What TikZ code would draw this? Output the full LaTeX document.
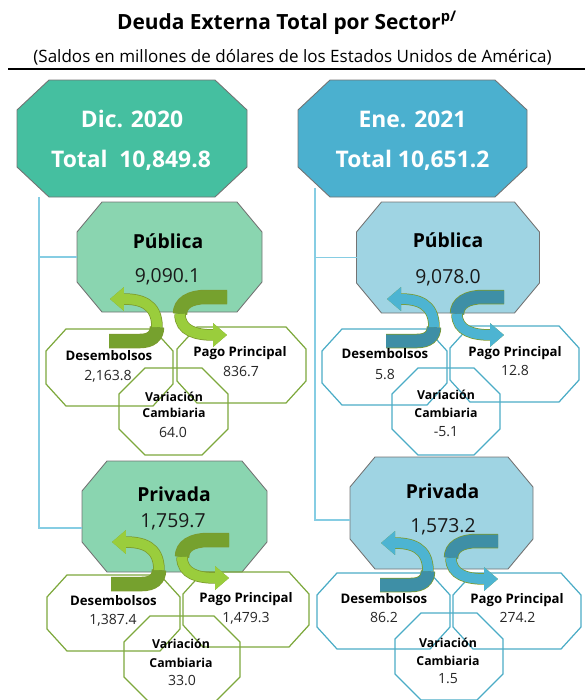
\documentclass[tikz,border=0pt]{standalone}
\usepackage{fontspec}
\setmainfont{Open Sans}
\usetikzlibrary{calc}
\usetikzlibrary{arrows.meta}

\definecolor{totG}{HTML}{45BFA0}
\definecolor{totB}{HTML}{4BB0CF}
\definecolor{secG}{HTML}{8AD5B0}
\definecolor{secB}{HTML}{9FD4E3}
\definecolor{lineG}{HTML}{7DA83C}
\definecolor{lineB}{HTML}{4BACC6}
\definecolor{linkC}{HTML}{86CDE3}
\definecolor{arrGdk}{HTML}{76A12E}
\definecolor{arrGlt}{HTML}{9ACD3C}
\definecolor{arrBdk}{HTML}{3E8FA6}
\definecolor{arrBlt}{HTML}{4DB4D2}
\definecolor{arrEdge}{HTML}{7C9A2E}

% chamfered outline of a named box: name, x cut, y cut
\newcommand{\octo}[3]{($(#1.north west)+(#2,0)$) -- ($(#1.north east)+(-#2,0)$) -- ($(#1.north east)+(0,#3)$) -- ($(#1.south east)+(0,-#3)$) -- ($(#1.south east)+(-#2,0)$) -- ($(#1.south west)+(#2,0)$) -- ($(#1.south west)+(0,-#3)$) -- ($(#1.north west)+(0,#3)$) -- cycle}

\tikzset{
  box/.style 2 args={minimum width=#1*0.02cm, minimum height=#2*0.02cm, inner sep=0pt, outer sep=0pt},
  bigbox/.style={draw=black!55, line width=0.5pt},
  subG/.style={draw=lineG, line width=0.7pt},
  subB/.style={draw=lineB, line width=0.7pt},
  link/.style={draw=linkC, line width=0.9pt},
  arrdk/.style={draw=#1, line width=0.26cm, preaction={draw=arrEdge, line width=0.29cm}},
  arrlt/.style={draw=#1, line width=0.2cm, preaction={draw=arrEdge, line width=0.23cm},
    -{Triangle[width=0.46cm,length=0.28cm]}},
  hdw/.style={anchor=base, text=white, font=\bfseries\fontsize{13}{15}\selectfont},
  sechd/.style={anchor=base, font=\bfseries\fontsize{11}{13}\selectfont},
  secval/.style={anchor=base, text=black!90, font=\fontsize{11}{13}\selectfont},
  smhd/.style={anchor=base, font=\bfseries\fontsize{7.5}{9}\selectfont},
  smvar/.style={anchor=base, font=\bfseries\fontsize{7}{8}\selectfont},
  smval/.style={anchor=base, text=black!85, font=\fontsize{8}{9}\selectfont}
}

\begin{document}
\begin{tikzpicture}[x=0.02cm,y=-0.02cm]
\useasboundingbox (0,0) rectangle (585,700);

% title
\node[anchor=base, font=\bfseries\fontsize{11.9}{14}\selectfont] (title) at (287,29) {Deuda Externa Total por Sector\textsuperscript{p/}};
\node[anchor=base, font=\fontsize{9.7}{11}\selectfont] (subtitle) at (292.5,62) {(Saldos en millones de dólares de los Estados Unidos de América)};
\draw[line width=1.2pt] (8,69) -- (585,69);

% boxes
\node[box={230}{117}] (dic) at (132,138.5) {};
\node[box={229}{117}] (ene) at (412.5,138.5) {};
\node[box={185}{110}] (pub1) at (169.5,257) {};
\node[box={183}{111}] (pub2) at (448,257.5) {};
\node[box={185}{111}] (priv1) at (174.5,516.5) {};
\node[box={183}{112}] (priv2) at (441.5,513) {};

\node[box={127}{77}] (desA) at (109.5,367.5) {};
\node[box={129}{76}] (pagA) at (241.5,365) {};
\node[box={109}{87}] (varA) at (173.5,411.5) {};
\node[box={125}{76}] (desB) at (384.5,367) {};
\node[box={129}{76}] (pagB) at (514.5,364) {};
\node[box={108}{87}] (varB) at (446,411.5) {};
\node[box={133}{76}] (desC) at (113.5,613) {};
\node[box={126}{75}] (pagC) at (246,609.5) {};
\node[box={116}{87}] (varC) at (182,659.5) {};
\node[box={133}{76}] (desD) at (383.5,611) {};
\node[box={128}{76}] (pagD) at (517,611) {};
\node[box={108}{87}] (varD) at (449,656.5) {};

\filldraw[bigbox, fill=totG] \octo{dic}{32}{30};
\filldraw[bigbox, fill=totB] \octo{ene}{32}{30};
\filldraw[bigbox, fill=secG] \octo{pub1}{25}{30};
\filldraw[bigbox, fill=secB] \octo{pub2}{25}{30};
\filldraw[bigbox, fill=secG] \octo{priv1}{25}{30};
\filldraw[bigbox, fill=secB] \octo{priv2}{25}{30};

\draw[link] ([xshift=0.44cm]dic.south west) |- (pub1.west);
\draw[link] ([xshift=0.44cm]dic.south west) |- ([yshift=-0.23cm]priv1.west);
\draw[link] ([xshift=0.34cm,yshift=0.18cm]ene.south west) |- (pub2.west);
\draw[link] ([xshift=0.34cm,yshift=0.18cm]ene.south west) |- ([yshift=-0.14cm]priv2.west);

\draw[subG] \octo{desA}{20}{22};
\draw[subG] \octo{pagA}{20}{22};
\draw[subG] \octo{varA}{26}{26};
\draw[subB] \octo{desB}{20}{22};
\draw[subB] \octo{pagB}{20}{22};
\draw[subB] \octo{varB}{26}{26};
\draw[subG] \octo{desC}{20}{22};
\draw[subG] \octo{pagC}{20}{22};
\draw[subG] \octo{varC}{26}{26};
\draw[subB] \octo{desD}{20}{22};
\draw[subB] \octo{pagD}{20}{22};
\draw[subB] \octo{varD}{26}{26};

% curved arrows
\begin{scope}
\draw[arrdk=arrGdk] (109,341) -- (140,341) .. controls (151,341) and (157,336) .. (157,327);
\draw[arrlt=arrGlt] (157,327) .. controls (157,303) and (140,299) .. (110,299);
\draw[arrdk=arrGdk] (227,297) -- (206,297) .. controls (190,297) and (180,303) .. (180,314);
\draw[arrlt=arrGlt] (180,314) .. controls (180,331) and (196,335) .. (227,335);
\end{scope}
\begin{scope}[shift={(277,0)}]
\draw[arrdk=arrBdk] (109,341) -- (140,341) .. controls (151,341) and (157,336) .. (157,327);
\draw[arrlt=arrBlt] (157,327) .. controls (157,303) and (140,299) .. (110,299);
\draw[arrdk=arrBdk] (227,297) -- (206,297) .. controls (190,297) and (180,303) .. (180,314);
\draw[arrlt=arrBlt] (180,314) .. controls (180,331) and (196,335) .. (227,335);
\end{scope}
\begin{scope}[shift={(2,243)}]
\draw[arrdk=arrGdk] (109,341) -- (140,341) .. controls (151,341) and (157,336) .. (157,327);
\draw[arrlt=arrGlt] (157,327) .. controls (157,303) and (140,299) .. (110,299);
\draw[arrdk=arrGdk] (227,297) -- (206,297) .. controls (190,297) and (180,303) .. (180,314);
\draw[arrlt=arrGlt] (180,314) .. controls (180,331) and (196,335) .. (227,335);
\end{scope}
\begin{scope}[shift={(271,244)}]
\draw[arrdk=arrBdk] (109,341) -- (140,341) .. controls (151,341) and (157,336) .. (157,327);
\draw[arrlt=arrBlt] (157,327) .. controls (157,303) and (140,299) .. (110,299);
\draw[arrdk=arrBdk] (227,297) -- (206,297) .. controls (190,297) and (180,303) .. (180,314);
\draw[arrlt=arrBlt] (180,314) .. controls (180,331) and (196,335) .. (227,335);
\end{scope}

% texts
\node[hdw] (dicH) at (132,127) {Dic. 2020};
\node[hdw] (dicT) at (131,167) {Total\ \ 10,849.8};
\node[hdw] (eneH) at (412.5,127) {Ene. 2021};
\node[hdw] (eneT) at (412.5,167) {Total 10,651.2};

\node[sechd] (pub1H) at (168,248) {Pública};
\node[secval] (pub1V) at (167.5,282) {9,090.1};
\node[sechd] (pub2H) at (448,247) {Pública};
\node[secval] (pub2V) at (448,283) {9,078.0};
\node[sechd] (priv1H) at (174,501) {Privada};
\node[secval] (priv1V) at (173,527) {1,759.7};
\node[sechd] (priv2H) at (442.5,498) {Privada};
\node[secval] (priv2V) at (443,532) {1,573.2};

\node[smhd] (desAH) at (109,360) {Desembolsos};
\node[smval] (desAV) at (108,380) {2,163.8};
\node[smhd] (pagAH) at (240,356) {Pago Principal};
\node[smval] (pagAV) at (241,376) {836.7};
\node[smvar] (varAH) at (174,401) {Variación};
\node[smvar] (varAC) at (174,417) {Cambiaria};
\node[smval] (varAV) at (173,437) {64.0};

\node[smhd] (desBH) at (385,358) {Desembolsos};
\node[smval] (desBV) at (385,379) {5.8};
\node[smhd] (pagBH) at (515,356) {Pago Principal};
\node[smval] (pagBV) at (515,375) {12.8};
\node[smvar] (varBH) at (446,399) {Variación};
\node[smvar] (varBC) at (446,417) {Cambiaria};
\node[smval] (varBV) at (446,436) {-5.1};

\node[smhd] (desCH) at (113.5,605) {Desembolsos};
\node[smval] (desCV) at (113,624) {1,387.4};
\node[smhd] (pagCH) at (246,602) {Pago Principal};
\node[smval] (pagCV) at (246,622) {1,479.3};
\node[smvar] (varCH) at (181,648) {Variación};
\node[smvar] (varCC) at (181,667) {Cambiaria};
\node[smval] (varCV) at (182,685) {33.0};

\node[smhd] (desDH) at (384,603) {Desembolsos};
\node[smval] (desDV) at (384,622) {86.2};
\node[smhd] (pagDH) at (517,603) {Pago Principal};
\node[smval] (pagDV) at (517.5,622) {274.2};
\node[smvar] (varDH) at (448,647) {Variación};
\node[smvar] (varDC) at (448,665) {Cambiaria};
\node[smval] (varDV) at (448,683) {1.5};
\end{tikzpicture}
\end{document}
